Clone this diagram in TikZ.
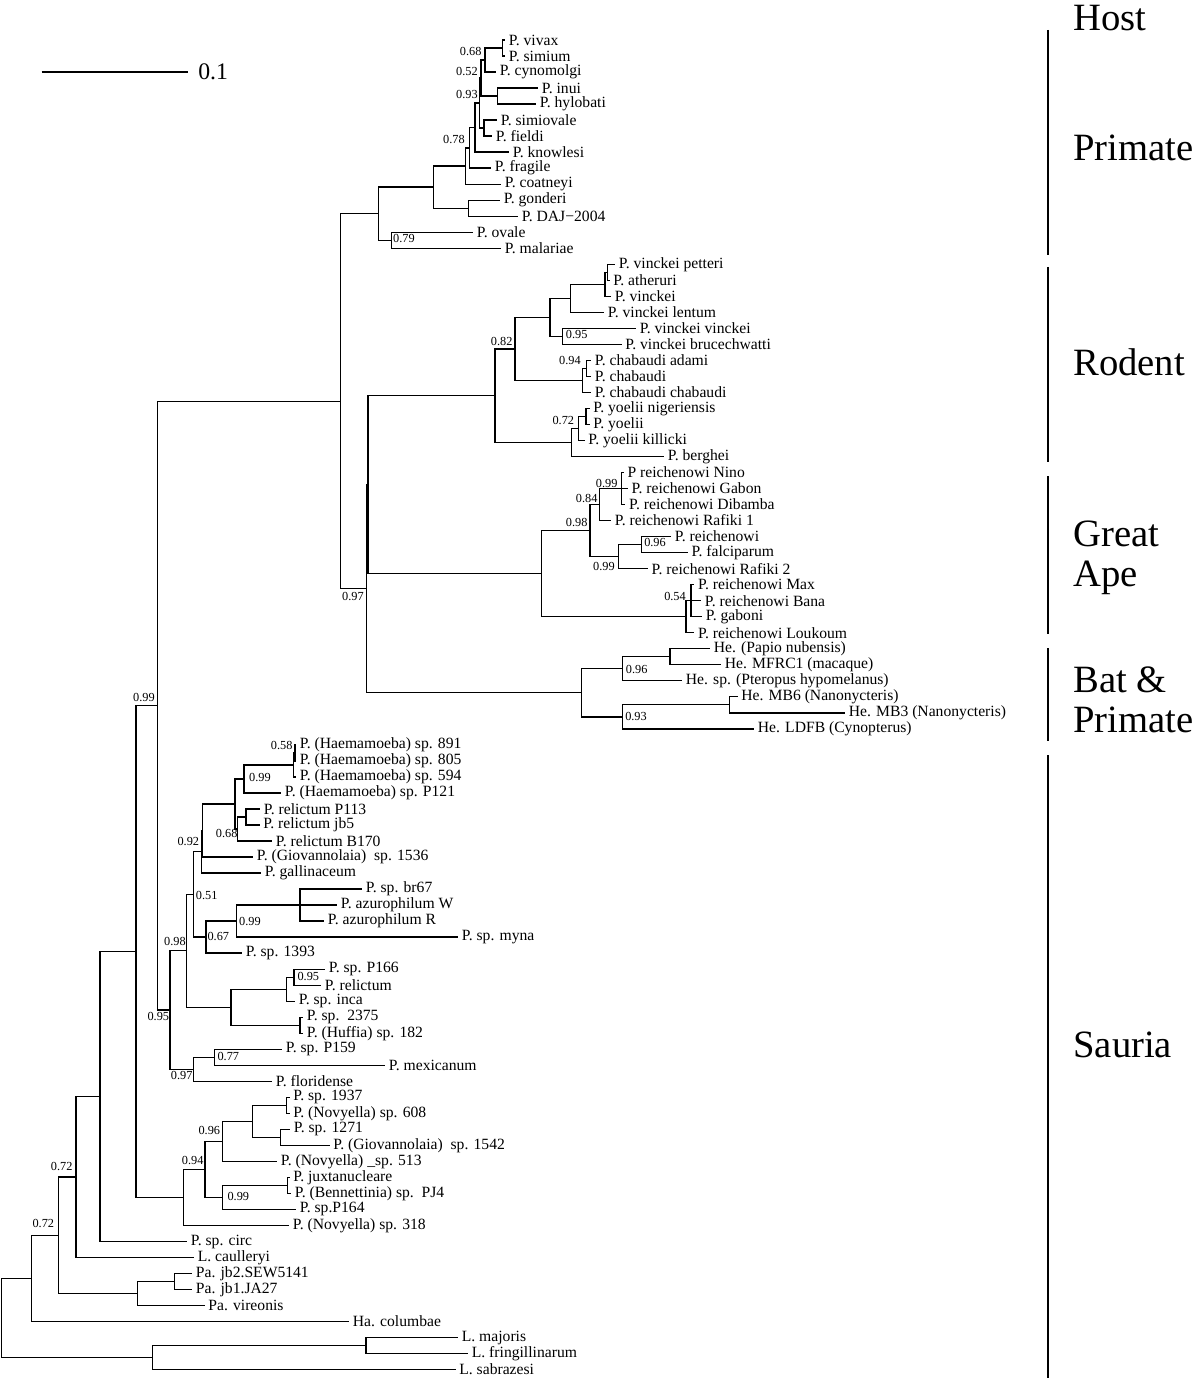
\documentclass[tikz,border=0pt]{standalone}
\usepackage{fontspec}
\setmainfont{Liberation Serif}
\usetikzlibrary{positioning}
\tikzset{
  branch/.style={line width=0.75pt},
  taxon/.style={anchor=west, inner sep=2pt, font=\fontsize{8.9}{10}\selectfont},
  bs/.style={inner sep=0pt, font=\fontsize{7}{8}\selectfont},
  hostlbl/.style={anchor=west, inner sep=0pt, align=left,
                  font=\fontsize{22}{23}\selectfont},
  hostbar/.style={line width=1.2pt},
  scalebar/.style={line width=1.1pt}
}
% leaf rows are 16.02 px apart, first row at 40 px
\newcommand{\ly}[1]{40+16.02*(#1)}

\begin{document}
\begin{tikzpicture}[x=0.02cm, y=-0.02cm]
  \useasboundingbox (0,0) rectangle (1200,1381);

  % ---------------- Primate
  \node[taxon] (vivax)     at (505,{\ly{0}})   {P. vivax};
  \node[taxon] (simium)    at (505,{\ly{1}})   {P. simium};
  \node[taxon] (cynomolgi) at (496,{\ly{2}})   {P. cynomolgi};
  \node[taxon] (inui)      at (538,{\ly{3}})   {P. inui};
  \node[taxon] (hylobati)  at (536,{\ly{4}})   {P. hylobati};
  \node[taxon] (simiovale) at (497,{\ly{5}})   {P. simiovale};
  \node[taxon] (fieldi)    at (492,{\ly{6}})   {P. fieldi};
  \node[taxon] (knowlesi)  at (509,{\ly{7}})   {P. knowlesi};
  \node[taxon] (fragile)   at (491,{\ly{8}})   {P. fragile};
  \node[taxon] (coatneyi)  at (501,{\ly{9}})   {P. coatneyi};
  \node[taxon] (gonderi)   at (500,{\ly{10}})  {P. gonderi};
  \node[taxon] (daj)       at (518,{\ly{11}})  {P. DAJ−2004};
  \node[taxon] (ovale)     at (473,{\ly{12}})  {P. ovale};
  \node[taxon] (malariae)  at (501,{\ly{13}})  {P. malariae};

  \coordinate (pvs)  at (502.5,{\ly{0.5}});
  \coordinate (pvsc) at (485,{\ly{1.25}});
  \coordinate (pih)  at (497.3,{\ly{3.5}});
  \coordinate (pA)   at (481,{\ly{2.375}});
  \coordinate (psf)  at (484,{\ly{5.5}});
  \coordinate (pB)   at (479.3,{\ly{3.9375}});
  \coordinate (pC)   at (475,{\ly{5.46875}});
  \coordinate (pD)   at (469.5,{\ly{6.734375}});
  \coordinate (pE)   at (465.5,{\ly{7.8671875}});
  \coordinate (pgd)  at (468.5,{\ly{10.5}});
  \coordinate (pF)   at (433.3,{\ly{9.18359}});
  \coordinate (pom)  at (391.3,{\ly{12.5}});
  \coordinate (pG)   at (378.3,{\ly{10.8418}});

  \draw[branch] (pvs) |- (vivax.west) (pvs) |- (simium.west);
  \draw[branch] (pvsc) |- (pvs) (pvsc) |- (cynomolgi.west);
  \draw[branch] (pih) |- (inui.west) (pih) |- (hylobati.west);
  \draw[branch] (pA) |- (pvsc) (pA) |- (pih);
  \draw[branch] (psf) |- (simiovale.west) (psf) |- (fieldi.west);
  \draw[branch] (pB) |- (pA) (pB) |- (psf);
  \draw[branch] (pC) |- (pB) (pC) |- (knowlesi.west);
  \draw[branch] (pD) |- (pC) (pD) |- (fragile.west);
  \draw[branch] (pE) |- (pD) (pE) |- (coatneyi.west);
  \draw[branch] (pgd) |- (gonderi.west) (pgd) |- (daj.west);
  \draw[branch] (pF) |- (pE) (pF) |- (pgd);
  \draw[branch] (pom) |- (ovale.west) (pom) |- (malariae.west);
  \draw[branch] (pG) |- (pF) (pG) |- (pom);

  \node[bs] (b068) at (470.7,51.7) {0.68};
  \node[bs] (b052) at (467,71.7)   {0.52};
  \node[bs] (b093) at (467,95)     {0.93};
  \node[bs] (b078) at (454,140)    {0.78};
  \node[bs] (b079) at (404,239)    {0.79};

  % ---------------- Rodent
  \node[taxon] (petteri)  at (615,{\ly{14}})   {P. vinckei petteri};
  \node[taxon] (atheruri) at (609.5,{\ly{15}}) {P. atheruri};
  \node[taxon] (vinckei)  at (611,{\ly{16}})   {P. vinckei};
  \node[taxon] (lentum)   at (604,{\ly{17}})   {P. vinckei lentum};
  \node[taxon] (vvinckei) at (636,{\ly{18}})   {P. vinckei vinckei};
  \node[taxon] (bruce)    at (621.5,{\ly{19}}) {P. vinckei brucechwatti};
  \node[taxon] (adami)    at (591,{\ly{20}})   {P. chabaudi adami};
  \node[taxon] (chabaudi) at (591,{\ly{21}})   {P. chabaudi};
  \node[taxon] (cchab)    at (591,{\ly{22}})   {P. chabaudi chabaudi};
  \node[taxon] (niger)    at (589.5,{\ly{23}}) {P. yoelii nigeriensis};
  \node[taxon] (yoelii)   at (589.5,{\ly{24}}) {P. yoelii};
  \node[taxon] (killicki) at (584.5,{\ly{25}}) {P. yoelii killicki};
  \node[taxon] (berghei)  at (664,{\ly{26}})   {P. berghei};

  \coordinate (rpa)   at (607.3,{\ly{14.5}});
  \coordinate (rpav)  at (605,{\ly{15.25}});
  \coordinate (rpavl) at (570.7,{\ly{16.125}});
  \coordinate (rvb)   at (562.7,{\ly{18.5}});
  \coordinate (rV)    at (550,{\ly{17.3125}});
  \coordinate (rac)   at (586.3,{\ly{20.5}});
  \coordinate (rch)   at (582.7,{\ly{21.25}});
  \coordinate (rVC)   at (515,{\ly{19.28125}});
  \coordinate (rny)   at (586,{\ly{23.5}});
  \coordinate (rnyk)  at (578.3,{\ly{24.25}});
  \coordinate (rY)    at (571.7,{\ly{25.125}});
  \coordinate (rRod)  at (495,{\ly{22.203125}});

  \draw[branch] (rpa) |- (petteri.west) (rpa) |- (atheruri.west);
  \draw[branch] (rpav) |- (rpa) (rpav) |- (vinckei.west);
  \draw[branch] (rpavl) |- (rpav) (rpavl) |- (lentum.west);
  \draw[branch] (rvb) |- (vvinckei.west) (rvb) |- (bruce.west);
  \draw[branch] (rV) |- (rpavl) (rV) |- (rvb);
  \draw[branch] (rac) |- (adami.west) (rac) |- (chabaudi.west);
  \draw[branch] (rch) |- (rac) (rch) |- (cchab.west);
  \draw[branch] (rVC) |- (rV) (rVC) |- (rch);
  \draw[branch] (rny) |- (niger.west) (rny) |- (yoelii.west);
  \draw[branch] (rnyk) |- (rny) (rnyk) |- (killicki.west);
  \draw[branch] (rY) |- (rnyk) (rY) |- (berghei.west);
  \draw[branch] (rRod) |- (rVC) (rRod) |- (rY);

  \node[bs] (b095r) at (576.7,335)   {0.95};
  \node[bs] (b094r) at (570,361)     {0.94};
  \node[bs] (b082)  at (501.7,341.7) {0.82};
  \node[bs] (b072r) at (563.3,420.7) {0.72};

  % ---------------- Great Ape
  \node[taxon] (nino)    at (623.7,{\ly{27}}) {P reichenowi Nino};
  \node[taxon] (gabon)   at (627.7,{\ly{28}}) {P. reichenowi Gabon};
  \node[taxon] (dibamba) at (625.3,{\ly{29}}) {P. reichenowi Dibamba};
  \node[taxon] (rafiki1) at (611,{\ly{30}})   {P. reichenowi Rafiki 1};
  \node[taxon] (reich)   at (671,{\ly{31}})   {P. reichenowi};
  \node[taxon] (falci)   at (687.7,{\ly{32}}) {P. falciparum};
  \node[taxon] (rafiki2) at (647.7,{\ly{33}}) {P. reichenowi Rafiki 2};
  \node[taxon] (max)     at (694.3,{\ly{34}}) {P. reichenowi Max};
  \node[taxon] (bana)    at (701,{\ly{35}})   {P. reichenowi Bana};
  \node[taxon] (gaboni)  at (702,{\ly{36}})   {P. gaboni};
  \node[taxon] (loukoum) at (694.3,{\ly{37}}) {P. reichenowi Loukoum};

  \coordinate (angd)   at (621.7,{\ly{28}});
  \coordinate (angdr)  at (599.3,{\ly{29}});
  \coordinate (arf)    at (641.7,{\ly{31.5}});
  \coordinate (arfr)   at (618.3,{\ly{32.25}});
  \coordinate (aupper) at (590,{\ly{30.625}});
  \coordinate (ambg)   at (691,{\ly{35}});
  \coordinate (ambgl)  at (686,{\ly{36}});
  \coordinate (aApe)   at (541.7,{\ly{33.3125}});

  \draw[branch] (angd) |- (nino.west) (angd) |- (gabon.west) (angd) |- (dibamba.west);
  \draw[branch] (angdr) |- (angd) (angdr) |- (rafiki1.west);
  \draw[branch] (arf) |- (reich.west) (arf) |- (falci.west);
  \draw[branch] (arfr) |- (arf) (arfr) |- (rafiki2.west);
  \draw[branch] (aupper) |- (angdr) (aupper) |- (arfr);
  \draw[branch] (ambg) |- (max.west) (ambg) |- (bana.west) (ambg) |- (gaboni.west);
  \draw[branch] (ambgl) |- (ambg) (ambgl) |- (loukoum.west);
  \draw[branch] (aApe) |- (aupper) (aApe) |- (ambgl);

  \node[bs] (b099a) at (606.7,483.3) {0.99};
  \node[bs] (b084)  at (586.7,498.3) {0.84};
  \node[bs] (b098a) at (576.7,522.7) {0.98};
  \node[bs] (b096a) at (655,542.7)   {0.96};
  \node[bs] (b099b) at (604,566)     {0.99};
  \node[bs] (b054)  at (675,596)     {0.54};

  % ---------------- Bat & Primate
  \node[taxon] (papio)    at (710,{\ly{38}})   {He. (Papio nubensis)};
  \node[taxon] (mfrc)     at (721,{\ly{39}})   {He. MFRC1 (macaque)};
  \node[taxon] (pteropus) at (682,{\ly{40}})   {He. sp. (Pteropus hypomelanus)};
  \node[taxon] (mbsix)    at (737.5,{\ly{41}}) {He. MB6 (Nanonycteris)};
  \node[taxon] (mbthree)  at (845,{\ly{42}})   {He. MB3 (Nanonycteris)};
  \node[taxon] (ldfb)     at (754,{\ly{43}})   {He. LDFB (Cynopterus)};

  \coordinate (bpm)  at (670,{\ly{38.5}});
  \coordinate (bpmp) at (622.7,{\ly{39.25}});
  \coordinate (bmb)  at (729.3,{\ly{41.5}});
  \coordinate (bmbl) at (622.7,{\ly{42.25}});
  \coordinate (bBat) at (581.7,{\ly{40.75}});

  \draw[branch] (bpm) |- (papio.west) (bpm) |- (mfrc.west);
  \draw[branch] (bpmp) |- (bpm) (bpmp) |- (pteropus.west);
  \draw[branch] (bmb) |- (mbsix.west) (bmb) |- (mbthree.west);
  \draw[branch] (bmbl) |- (bmb) (bmbl) |- (ldfb.west);
  \draw[branch] (bBat) |- (bpmp) (bBat) |- (bmbl);

  \node[bs] (b096b) at (636.7,669.3) {0.96};
  \node[bs] (b093b) at (636,716.7)   {0.93};

  % ---------------- mammal backbone
  \coordinate (mRA)  at (368,{\ly{27.7578}});
  \coordinate (mRAB) at (366.7,{\ly{34.2539}});
  \coordinate (mMam) at (340.7,{\ly{22.5479}});

  \draw[branch] (mRA) |- (rRod) (mRA) |- (aApe);
  \draw[branch] (mRAB) |- (mRA) (mRAB) |- (bBat);
  \draw[branch] (mMam) |- (pG) (mMam) |- (mRAB);

  \node[bs] (b097m) at (353,596) {0.97};

  % ---------------- Sauria
  \node[taxon] (hae891)   at (296,{\ly{44}})   {P. (Haemamoeba) sp. 891};
  \node[taxon] (hae805)   at (296,{\ly{45}})   {P. (Haemamoeba) sp. 805};
  \node[taxon] (hae594)   at (296,{\ly{46}})   {P. (Haemamoeba) sp. 594};
  \node[taxon] (haeP121)  at (281,{\ly{47}})   {P. (Haemamoeba) sp. P121};
  \node[taxon] (relP113)  at (260,{\ly{48}})   {P. relictum P113};
  \node[taxon] (reljb5)   at (259.5,{\ly{49}}) {P. relictum jb5};
  \node[taxon] (relB170)  at (272,{\ly{50}})   {P. relictum B170};
  \node[taxon] (giov1536) at (253,{\ly{51}})   {P. (Giovannolaia)\ \ sp. 1536};
  \node[taxon] (gallin)   at (261,{\ly{52}})   {P. gallinaceum};
  \node[taxon] (br67)     at (362,{\ly{53}})   {P. sp. br67};
  \node[taxon] (azW)      at (337,{\ly{54}})   {P. azurophilum W};
  \node[taxon] (azR)      at (324,{\ly{55}})   {P. azurophilum R};
  \node[taxon] (myna)     at (458,{\ly{56}})   {P. sp. myna};
  \node[taxon] (sp1393)   at (242,{\ly{57}})   {P. sp. 1393};
  \node[taxon] (spP166)   at (325,{\ly{58}})   {P. sp. P166};
  \node[taxon] (relict)   at (321,{\ly{59}})   {P. relictum};
  \node[taxon] (inca)     at (295,{\ly{60}})   {P. sp. inca};
  \node[taxon] (sp2375)   at (303,{\ly{61}})   {P. sp.\ \ 2375};
  \node[taxon] (huffia)   at (303,{\ly{62}})   {P. (Huffia) sp. 182};
  \node[taxon] (spP159)   at (282,{\ly{63}})   {P. sp. P159};
  \node[taxon] (mexic)    at (385,{\ly{64}})   {P. mexicanum};
  \node[taxon] (florid)   at (272,{\ly{65}})   {P. floridense};
  \node[taxon] (sp1937)   at (289.5,{\ly{66}}) {P. sp. 1937};
  \node[taxon] (nov608)   at (289.5,{\ly{67}}) {P. (Novyella) sp. 608};
  \node[taxon] (sp1271)   at (290,{\ly{68}})   {P. sp. 1271};
  \node[taxon] (giov1542) at (329.5,{\ly{69}}) {P. (Giovannolaia)\ \ sp. 1542};
  \node[taxon] (nov513)   at (277,{\ly{70}})   {P. (Novyella) \_sp. 513};
  \node[taxon] (juxta)    at (289.5,{\ly{71}}) {P. juxtanucleare};
  \node[taxon] (benn)     at (291,{\ly{72}})   {P. (Bennettinia) sp.\ \ PJ4};
  \node[taxon] (spP164)   at (296,{\ly{73}})   {P. sp.P164};
  \node[taxon] (nov318)   at (289,{\ly{74}})   {P. (Novyella) sp. 318};
  \node[taxon] (circ)     at (187,{\ly{75}})   {P. sp. circ};
  \node[taxon] (caull)    at (194,{\ly{76}})   {L. caulleryi};
  \node[taxon] (jbtwo)    at (192,{\ly{77}})   {Pa. jb2.SEW5141};
  \node[taxon] (jbone)    at (192,{\ly{78}})   {Pa. jb1.JA27};
  \node[taxon] (vireo)    at (204.5,{\ly{79}}) {Pa. vireonis};
  \node[taxon] (columbae) at (349,{\ly{80}})   {Ha. columbae};
  \node[taxon] (majoris)  at (458,{\ly{81}})   {L. majoris};
  \node[taxon] (fring)    at (468,{\ly{82}})   {L. fringillinarum};
  \node[taxon] (sabra)    at (455.5,{\ly{83}}) {L. sabrazesi};

  \coordinate (shh)   at (295,{\ly{44.5}});
  \coordinate (shae)  at (293.3,{\ly{45.25}});
  \coordinate (shp)   at (244,{\ly{46.125}});
  \coordinate (srpj)  at (246,{\ly{48.5}});
  \coordinate (srel)  at (237.3,{\ly{49.25}});
  \coordinate (sX)    at (235,{\ly{47.6875}});
  \coordinate (sHa)   at (202.3,{\ly{49.34375}});
  \coordinate (sHb)   at (201.5,{\ly{50.671875}});
  \coordinate (sbaa)  at (300,{\ly{54}});
  \coordinate (sbaam) at (236.7,{\ly{55}});
  \coordinate (ssix)  at (206,{\ly{56}});
  \coordinate (snin)  at (193.3,{\ly{53.3359}});
  \coordinate (spr)   at (294,{\ly{58.5}});
  \coordinate (spri)  at (286.7,{\ly{59.25}});
  \coordinate (sth)   at (300,{\ly{61.5}});
  \coordinate (sinc)  at (231,{\ly{60.375}});
  \coordinate (sQ)    at (186.7,{\ly{56.8555}});
  \coordinate (spm)   at (214.3,{\ly{63.5}});
  \coordinate (sflo)  at (193.3,{\ly{64.25}});
  \coordinate (sAv)   at (170,{\ly{60.5527}});
  \coordinate (sMA)   at (157.3,{\ly{41.5503}});
  \coordinate (nan)   at (286.7,{\ly{66.5}});
  \coordinate (nbn)   at (280.7,{\ly{68.5}});
  \coordinate (nab)   at (252.7,{\ly{67.5}});
  \coordinate (nsix)  at (222.3,{\ly{68.75}});
  \coordinate (njb)   at (287.3,{\ly{71.5}});
  \coordinate (njbp)  at (222.7,{\ly{72.25}});
  \coordinate (nfour) at (205,{\ly{70.5}});
  \coordinate (nNov)  at (183.3,{\ly{72.25}});
  \coordinate (sPa)   at (136,{\ly{56.90015}});
  \coordinate (sPb)   at (100,{\ly{65.95}});
  \coordinate (sPc)   at (76,{\ly{70.975}});
  \coordinate (pajb)  at (174.3,{\ly{77.5}});
  \coordinate (pavi)  at (137.3,{\ly{78.25}});
  \coordinate (sPd)   at (58.3,{\ly{74.6125}});
  \coordinate (sPe)   at (31.7,{\ly{77.30625}});
  \coordinate (lmf)   at (366,{\ly{81.5}});
  \coordinate (lLeu)  at (152.3,{\ly{82.25}});
  \coordinate (root)  at (1.7,{\ly{79.778}});

  \draw[branch] (shh) |- (hae891.west) (shh) |- (hae805.west);
  \draw[branch] (shae) |- (shh) (shae) |- (hae594.west);
  \draw[branch] (shp) |- (shae) (shp) |- (haeP121.west);
  \draw[branch] (srpj) |- (relP113.west) (srpj) |- (reljb5.west);
  \draw[branch] (srel) |- (srpj) (srel) |- (relB170.west);
  \draw[branch] (sX) |- (shp) (sX) |- (srel);
  \draw[branch] (sHa) |- (sX) (sHa) |- (giov1536.west);
  \draw[branch] (sHb) |- (sHa) (sHb) |- (gallin.west);
  \draw[branch] (sbaa) |- (br67.west) (sbaa) |- (azW.west) (sbaa) |- (azR.west);
  \draw[branch] (sbaam) |- (sbaa) (sbaam) |- (myna.west);
  \draw[branch] (ssix) |- (sbaam) (ssix) |- (sp1393.west);
  \draw[branch] (snin) |- (sHb) (snin) |- (ssix);
  \draw[branch] (spr) |- (spP166.west) (spr) |- (relict.west);
  \draw[branch] (spri) |- (spr) (spri) |- (inca.west);
  \draw[branch] (sth) |- (sp2375.west) (sth) |- (huffia.west);
  \draw[branch] (sinc) |- (spri) (sinc) |- (sth);
  \draw[branch] (sQ) |- (snin) (sQ) |- (sinc);
  \draw[branch] (spm) |- (spP159.west) (spm) |- (mexic.west);
  \draw[branch] (sflo) |- (spm) (sflo) |- (florid.west);
  \draw[branch] (sAv) |- (sQ) (sAv) |- (sflo);
  \draw[branch] (sMA) |- (mMam) (sMA) |- (sAv);
  \draw[branch] (nan) |- (sp1937.west) (nan) |- (nov608.west);
  \draw[branch] (nbn) |- (sp1271.west) (nbn) |- (giov1542.west);
  \draw[branch] (nab) |- (nan) (nab) |- (nbn);
  \draw[branch] (nsix) |- (nab) (nsix) |- (nov513.west);
  \draw[branch] (njb) |- (juxta.west) (njb) |- (benn.west);
  \draw[branch] (njbp) |- (njb) (njbp) |- (spP164.west);
  \draw[branch] (nfour) |- (nsix) (nfour) |- (njbp);
  \draw[branch] (nNov) |- (nfour) (nNov) |- (nov318.west);
  \draw[branch] (sPa) |- (sMA) (sPa) |- (nNov);
  \draw[branch] (sPb) |- (sPa) (sPb) |- (circ.west);
  \draw[branch] (sPc) |- (sPb) (sPc) |- (caull.west);
  \draw[branch] (pajb) |- (jbtwo.west) (pajb) |- (jbone.west);
  \draw[branch] (pavi) |- (pajb) (pavi) |- (vireo.west);
  \draw[branch] (sPd) |- (sPc) (sPd) |- (pavi);
  \draw[branch] (sPe) |- (sPd) (sPe) |- (columbae.west);
  \draw[branch] (lmf) |- (majoris.west) (lmf) |- (fring.west);
  \draw[branch] (lLeu) |- (lmf) (lLeu) |- (sabra.west);
  \draw[branch] (root) |- (sPe) (root) |- (lLeu);

  \node[bs] (b058)  at (281.7,745)    {0.58};
  \node[bs] (b099c) at (260,777.7)    {0.99};
  \node[bs] (b068s) at (226.7,833.3)  {0.68};
  \node[bs] (b092)  at (188.3,841.7)  {0.92};
  \node[bs] (b051)  at (206.7,895)    {0.51};
  \node[bs] (b099d) at (250,921.7)    {0.99};
  \node[bs] (b067)  at (218.3,936)    {0.67};
  \node[bs] (b098s) at (175,941.7)    {0.98};
  \node[bs] (b095a) at (308.3,976)    {0.95};
  \node[bs] (b095b) at (158.3,1016.7) {0.95};
  \node[bs] (b077)  at (228.3,1056)   {0.77};
  \node[bs] (b097s) at (181.7,1075)   {0.97};
  \node[bs] (b096n) at (209.3,1130)   {0.96};
  \node[bs] (b094n) at (192.7,1160)   {0.94};
  \node[bs] (b099e) at (238.3,1196.7) {0.99};
  \node[bs] (b072a) at (61.7,1166.7)  {0.72};
  \node[bs] (b072b) at (43.3,1223.3)  {0.72};
  \node[bs] (b099s) at (144,697.3)    {0.99};

  % ---------------- scale bar
  \coordinate (sbl) at (41.7,72);
  \coordinate (sbr) at (188.3,72);
  \draw[scalebar] (sbl) -- (sbr);
  \node[anchor=west, inner sep=0pt, font=\fontsize{13.5}{15}\selectfont] (sbtxt)
    at (198,72) {0.1};

  % ---------------- host column
  \node[hostlbl] (host)    at (1073,18)  {Host};
  \node[hostlbl] (hprim)   at (1073,148) {Primate};
  \node[hostlbl] (hrod)    at (1073,362) {Rodent};
  \node[hostlbl] (hape)    at (1073,558) {Great\\Ape};
  \node[hostlbl] (hbat)    at (1073,700) {Bat \&\\Primate};
  \node[hostlbl] (hsaur)   at (1073,1045) {Sauria};

  \coordinate (hpa) at (1048,30);   \coordinate (hpb) at (1048,255);
  \coordinate (hra) at (1048,267);  \coordinate (hrb) at (1048,462);
  \coordinate (haa) at (1048,476);  \coordinate (hab) at (1048,634);
  \coordinate (hba) at (1048,648);  \coordinate (hbb) at (1048,741);
  \coordinate (hsa) at (1048,755);  \coordinate (hsb) at (1048,1378);
  \draw[hostbar] (hpa) -- (hpb);
  \draw[hostbar] (hra) -- (hrb);
  \draw[hostbar] (haa) -- (hab);
  \draw[hostbar] (hba) -- (hbb);
  \draw[hostbar] (hsa) -- (hsb);
\end{tikzpicture}
\end{document}
